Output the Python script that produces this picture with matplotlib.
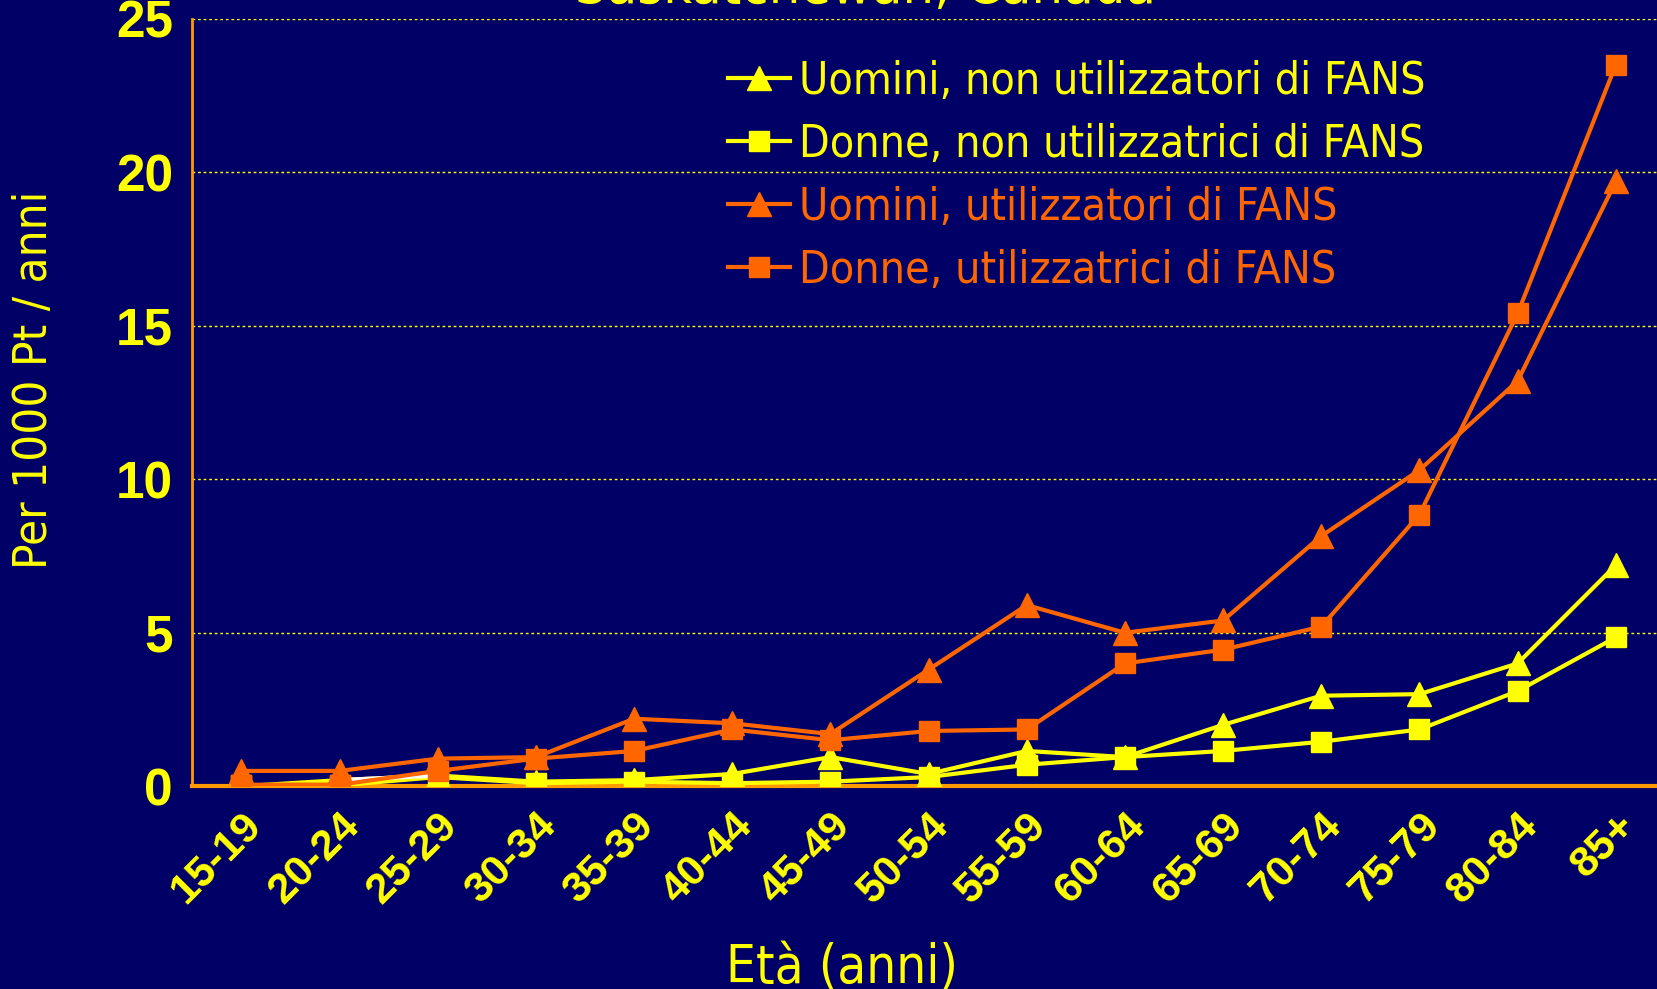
import matplotlib
matplotlib.use("Agg")
import matplotlib.pyplot as plt
from matplotlib.font_manager import FontProperties

age_groups = ["15-19", "20-24", "25-29", "30-34", "35-39", "40-44", "45-49", "50-54",
              "55-59", "60-64", "65-69", "70-74", "75-79", "80-84", "85+"]
men_non_users = [0.0, 0.2, 0.35, 0.15, 0.2, 0.4, 0.95, 0.4, 1.15, 0.95, 2.0, 2.95, 3.0, 4.0, 7.2]
women_non_users = [0.03, 0.03, 0.3, 0.1, 0.15, 0.1, 0.15, 0.3, 0.7, 0.95, 1.15, 1.45, 1.85, 3.1, 4.85]
men_users = [0.5, 0.5, 0.9, 0.95, 2.2, 2.05, 1.7, 3.8, 5.9, 5.0, 5.4, 8.15, 10.3, 13.2, 19.7]
women_users = [0.05, 0.05, 0.5, 0.9, 1.15, 1.85, 1.5, 1.8, 1.85, 4.0, 4.45, 5.2, 8.85, 15.4, 23.5]
series_labels = ["Uomini, non utilizzatori di FANS", "Donne, non utilizzatrici di FANS",
                 "Uomini, utilizzatori di FANS", "Donne, utilizzatrici di FANS"]
y_ticks = [0, 5, 10, 15, 20, 25]

BG = "#000066"
YEL = "#FFFF00"
ORA = "#FF6600"
SPINE = "#FF9900"


def narrow(size):
    return FontProperties(family="DejaVu Sans", stretch="condensed", size=size)


fig = plt.figure(figsize=(16.58, 9.89), dpi=100, facecolor=BG)
ax = fig.add_axes([0.116, 0.205, 0.884, 0.776], facecolor=BG)

x = list(range(len(age_groups)))
lw = 3.0
ms_tri = 17
ms_sq = 15
ax.plot(x, men_non_users, color=YEL, lw=lw, marker="^", ms=ms_tri, label=series_labels[0], zorder=3)
ax.plot(x, women_non_users, color=YEL, lw=lw, marker="s", ms=ms_sq, label=series_labels[1], zorder=3)
# first segments of the non-user series appear white / black in the original slide
ax.plot(x[1:3], men_non_users[1:3], color="white", lw=lw, zorder=3.5)
ax.plot(x[0:2], women_non_users[0:2], color="black", lw=lw, zorder=3.5)
ax.plot(x, men_users, color=ORA, lw=lw, marker="^", ms=ms_tri, label=series_labels[2], zorder=4)
ax.plot(x, women_users, color=ORA, lw=lw, marker="s", ms=ms_sq, label=series_labels[3], zorder=4)

ax.set_xlim(-0.5, 14.43)
ax.set_ylim(0, 25)
ax.set_yticks(y_ticks)
ax.set_xticks(x)
ax.set_xticklabels(age_groups, rotation=45, ha="right", va="top", rotation_mode="anchor",
                   fontsize=31, fontweight="bold", color=YEL, family="Liberation Sans")
for lab in ax.get_yticklabels():
    lab.set_fontsize(37)
    lab.set_fontweight("bold")
    lab.set_color(YEL)
    lab.set_family("Liberation Sans")
ax.tick_params(axis="x", length=0, pad=14)
ax.tick_params(axis="y", length=0, pad=14)

for y in y_ticks[1:]:
    ax.axhline(y, color=YEL, lw=1.0, ls=(0, (2, 2)), zorder=1)

for s in ["top", "right"]:
    ax.spines[s].set_visible(False)
ax.spines["left"].set_color(SPINE)
ax.spines["left"].set_linewidth(2)
ax.spines["bottom"].set_color(SPINE)
ax.spines["bottom"].set_linewidth(3)
ax.spines["bottom"].set_zorder(2)

ax.set_ylabel("Per 1000 Pt / anni", color=YEL, fontproperties=narrow(34))
ax.yaxis.set_label_coords(-0.092, 0.53)
ax.set_xlabel("Età (anni)", color=YEL, fontproperties=narrow(38))
ax.xaxis.set_label_coords(0.443, -0.202)

fig.text(0.522, 1 - 3 / 989, "Saskatchewan, Canada", color=YEL, fontproperties=narrow(40),
         ha="center", va="baseline")

leg = ax.legend(loc="upper left", bbox_to_anchor=(0.3535, 0.9695), frameon=False,
                prop=narrow(32), handlelength=1.4, handletextpad=0.2,
                labelspacing=0.45, borderaxespad=0, labelcolor=[YEL, YEL, ORA, ORA])

fig.savefig("out.png", dpi=100, facecolor=BG)
